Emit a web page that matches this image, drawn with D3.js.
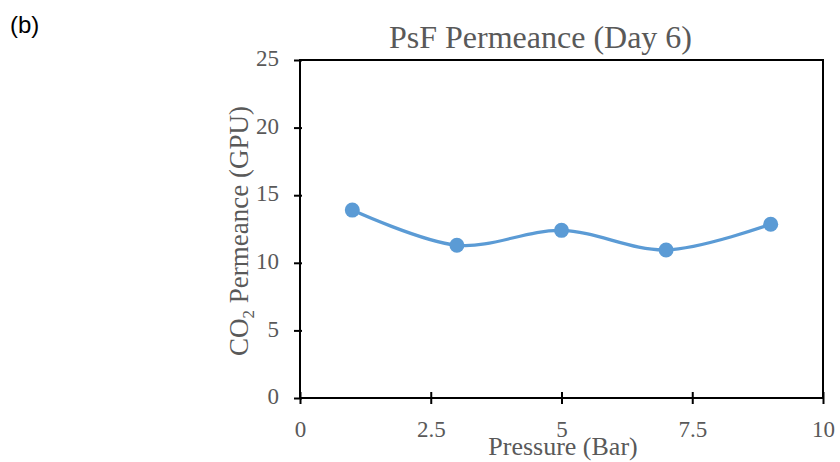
<!DOCTYPE html>
<html><head><meta charset="utf-8">
<script src="https://cdn.jsdelivr.net/npm/d3@7/dist/d3.min.js"></script>
<style>body{margin:0;background:#fff;}</style>
</head><body>
<svg id="c" width="840" height="462"></svg>
<script>
const pressure = [1, 3, 5, 7, 9];
const permeance = [13.9, 11.3, 12.4, 10.95, 12.85];
const xTicks = [0, 2.5, 5, 7.5, 10];
const yTicks = [0, 5, 10, 15, 20, 25];

const svg = d3.select("#c");
const L = 300, R = 823, T = 60, B = 398;
const x = d3.scaleLinear().domain([0, 10]).range([L, R]);
const y = d3.scaleLinear().domain([0, 25]).range([B, T]);
const grey = "#595959";
const serif = "'Liberation Serif','Times New Roman',serif";

svg.append("text").attr("x", 10).attr("y", 33).attr("font-family", "'Liberation Sans',Arial,sans-serif")
  .attr("font-size", 24).attr("fill", "#000").text("(b)");

svg.append("text").attr("x", 540.5).attr("y", 48).attr("text-anchor", "middle")
  .attr("font-family", serif).attr("font-size", 32).attr("fill", grey).text("PsF Permeance (Day 6)");

svg.append("rect").attr("x", L).attr("y", T).attr("width", R - L).attr("height", B - T)
  .attr("fill", "none").attr("stroke", "#000").attr("stroke-width", 2);

const xAxis = svg.append("g").attr("transform", `translate(0,${B})`)
  .call(d3.axisBottom(x).tickValues(xTicks).tickSize(0).tickFormat(d => d));
xAxis.select(".domain").remove();
xAxis.selectAll("text").attr("font-family", serif).attr("font-size", 23).attr("fill", grey).attr("dy", null).attr("y", 39);
xAxis.selectAll(".tick").append("line").attr("y1", -6).attr("y2", 6).attr("stroke", "#000").attr("stroke-width", 2);

const yAxis = svg.append("g").attr("transform", `translate(${L},0)`)
  .call(d3.axisLeft(y).tickValues(yTicks).tickSize(0).tickFormat(d => d));
yAxis.select(".domain").remove();
yAxis.selectAll("text").attr("font-family", serif).attr("font-size", 23).attr("fill", grey).attr("x", -21).attr("dy", "0.25em");
yAxis.selectAll(".tick").append("line").attr("x1", -6).attr("x2", 2).attr("stroke", "#000").attr("stroke-width", 2);

svg.append("text").attr("x", 563).attr("y", 455).attr("text-anchor", "middle")
  .attr("font-family", serif).attr("font-size", 26).attr("fill", grey).text("Pressure (Bar)");

const yl = svg.append("text").attr("transform", `translate(248,231) rotate(-90)`)
  .attr("text-anchor", "middle").attr("font-family", serif).attr("font-size", 27).attr("fill", grey);
yl.append("tspan").text("CO");
yl.append("tspan").attr("font-size", 17).attr("dy", 6).text("2");
yl.append("tspan").attr("dy", -6).text(" Permeance (GPU)");

const data = pressure.map((p, i) => [p, permeance[i]]);
const line = d3.line().x(d => x(d[0])).y(d => y(d[1])).curve(d3.curveCardinal.tension(0));
svg.append("path").attr("d", line(data)).attr("fill", "none").attr("stroke", "#5B9BD5").attr("stroke-width", 3.25);
svg.selectAll("circle.pt").data(data).enter().append("circle").attr("class", "pt")
  .attr("cx", d => x(d[0])).attr("cy", d => y(d[1])).attr("r", 7.5).attr("fill", "#5B9BD5");
</script>
</body></html>
